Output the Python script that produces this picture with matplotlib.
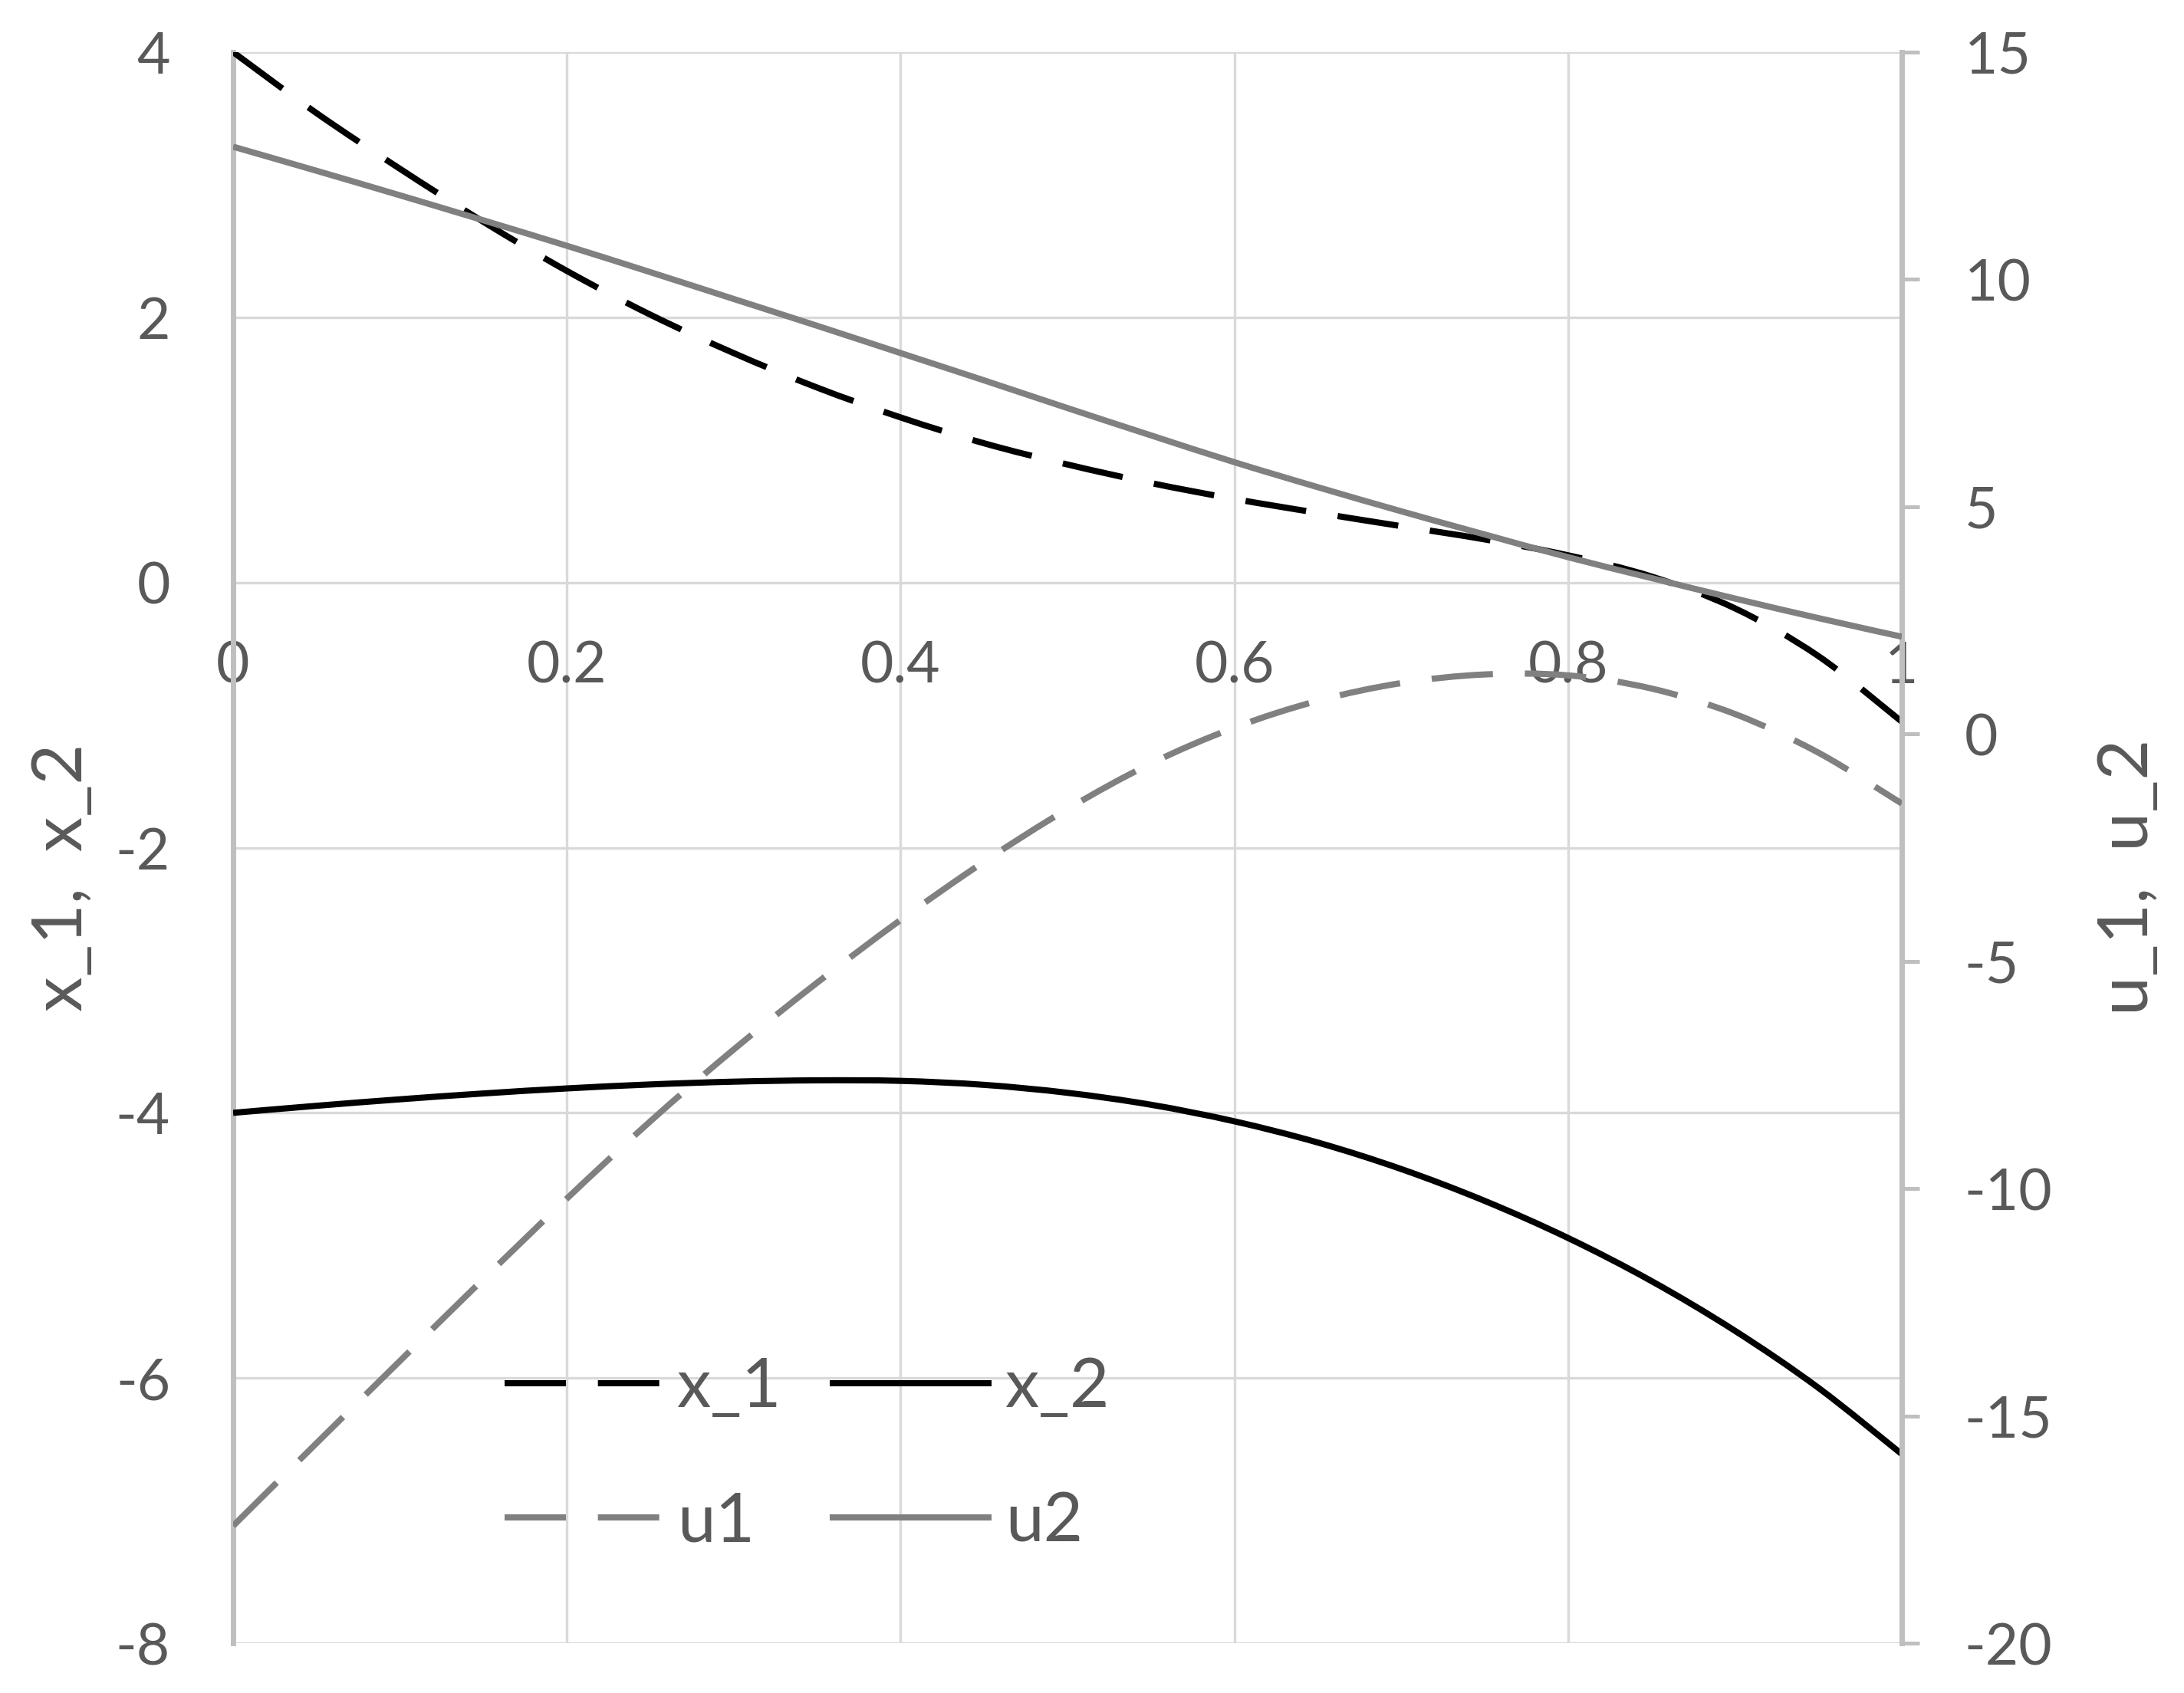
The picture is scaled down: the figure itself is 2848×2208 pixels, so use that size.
import matplotlib
matplotlib.use("Agg")
import matplotlib.pyplot as plt
import numpy as np
from matplotlib.path import Path
from matplotlib.patches import PathPatch
from matplotlib.lines import Line2D

# ---- data ----
t = [0.00, 0.05, 0.10, 0.15, 0.20, 0.25, 0.30, 0.35, 0.40, 0.45, 0.50,
     0.55, 0.60, 0.65, 0.70, 0.75, 0.80, 0.85, 0.90, 0.95, 1.00]
x_1 = [4.00, 3.54, 3.12, 2.72, 2.35, 2.02, 1.73, 1.47, 1.245, 1.05, 0.89,
       0.75, 0.63, 0.525, 0.425, 0.325, 0.205, 0.045, -0.195, -0.555, -1.05]
x_2 = [-4.000, -3.947, -3.898, -3.854, -3.816, -3.786, -3.765, -3.755, -3.759, -3.789, -3.849,
       -3.939, -4.064, -4.224, -4.424, -4.664, -4.944, -5.269, -5.644, -6.074, -6.574]
u1 = [-17.42, -15.60, -13.79, -11.99, -10.22, -8.52, -6.94, -5.47, -4.09, -2.81, -1.65,
      -0.65, 0.14, 0.73, 1.12, 1.31, 1.29, 1.00, 0.44, -0.41, -1.53]
u2 = [12.92, 12.39, 11.85, 11.30, 10.74, 10.16, 9.57, 8.98, 8.38, 7.78, 7.17,
      6.57, 5.98, 5.43, 4.90, 4.39, 3.89, 3.43, 2.98, 2.55, 2.14]

x_ticks = [0, 0.2, 0.4, 0.6, 0.8, 1]
x_ticklabels = ["0", "0.2", "0.4", "0.6", "0.8", "1"]
left_ticks = [-8, -6, -4, -2, 0, 2, 4]
right_ticks = [-20, -15, -10, -5, 0, 5, 10, 15]

# ---- style ----
plt.rcParams['font.family'] = ['Lato', 'DejaVu Sans']
TXT = '#595959'
AXC = '#bfbfbf'
GRID = '#d9d9d9'
GRAY = '#808080'
LW = 2.9
DASH = (28.8 / LW, 15.0 / LW)


def smooth_path(xs, ys):
    """Smoothed (Catmull-Rom style) Bezier path through the data points."""
    P = np.column_stack([xs, ys]).astype(float)
    n = len(P)
    verts = [P[0]]
    codes = [Path.MOVETO]
    for i in range(n - 1):
        p0 = P[i - 1] if i > 0 else P[i]
        p1 = P[i]
        p2 = P[i + 1]
        p3 = P[i + 2] if i + 2 < n else P[i + 1]
        c1 = p1 + (p2 - p0) / 6.0
        c2 = p2 - (p3 - p1) / 6.0
        verts += [c1, c2, p2]
        codes += [Path.CURVE4] * 3
    return Path(verts, codes)


def draw(axis, xs, ys, color, dashed):
    ls = (0, DASH) if dashed else '-'
    patch = PathPatch(smooth_path(xs, ys), facecolor='none', edgecolor=color,
                      lw=LW, linestyle=ls, capstyle='butt', joinstyle='round',
                      transform=axis.transData, zorder=3)
    axis.add_patch(patch)
    h = Line2D([], [], color=color, lw=LW)
    if dashed:
        h.set_dashes(DASH)
    return h


W, H = 2848, 2208
fig = plt.figure(figsize=(W / 200, H / 200), dpi=200)
ax = fig.add_axes([304 / W, 1 - 2143 / H, 2176 / W, 2075 / H])
ax2 = ax.twinx()

h_x1 = draw(ax, t, x_1, 'black', True)
h_x2 = draw(ax, t, x_2, 'black', False)
h_u1 = draw(ax2, t, u1, GRAY, True)
h_u2 = draw(ax2, t, u2, GRAY, False)

ax.set_xlim(0, 1)
ax.set_ylim(-8, 4)
ax2.set_ylim(-20, 15)

ax.set_xticks(x_ticks)
ax.set_xticklabels(x_ticklabels)
ax.set_yticks(left_ticks)
ax.set_yticklabels([str(v) for v in left_ticks])
ax2.set_yticks(right_ticks)
ax2.set_yticklabels([str(v) for v in right_ticks])

ax.set_axisbelow(True)
ax.grid(True, color=GRID, lw=1.2)

for a in (ax, ax2):
    a.spines['top'].set_visible(False)
ax.spines['right'].set_visible(False)
ax.spines['bottom'].set_position(('data', 0))
ax.spines['bottom'].set_visible(False)
ax2.spines['bottom'].set_visible(False)
ax2.spines['left'].set_visible(False)
ax.spines['left'].set_color(AXC)
ax.spines['left'].set_linewidth(2.5)
ax2.spines['right'].set_color(AXC)
ax2.spines['right'].set_linewidth(2.5)

FS = 27
ax.tick_params(axis='x', length=0, pad=27, labelsize=FS, labelcolor=TXT)
ax.tick_params(axis='y', length=0, pad=29.5, labelsize=FS, labelcolor=TXT)
ax2.tick_params(axis='y', length=8.3, width=1.8, color=AXC, pad=21,
                labelsize=FS, labelcolor=TXT)

fig.text(82 / W, 1 - 1144 / H, 'x_1,  x_2', rotation=90, ha='center', va='center',
         fontsize=33, color=TXT)
fig.text(2776 / W, 1 - 1144 / H, 'u_1,  u_2', rotation=90, ha='center', va='center',
         fontsize=33, color=TXT)

leg = ax2.legend([h_x1, h_u1, h_x2, h_u2], ['x_1', 'u1', 'x_2', 'u2'], ncol=2,
                 loc='upper left', bbox_to_anchor=(658 / W, 1 - 1769 / H),
                 bbox_transform=fig.transFigure, frameon=False, fontsize=32,
                 handlelength=2.28, handletextpad=0.25, columnspacing=0.75,
                 labelspacing=1.05, borderpad=0, borderaxespad=0)
for txt in leg.get_texts():
    txt.set_color(TXT)

fig.savefig('out.png', dpi=200)
